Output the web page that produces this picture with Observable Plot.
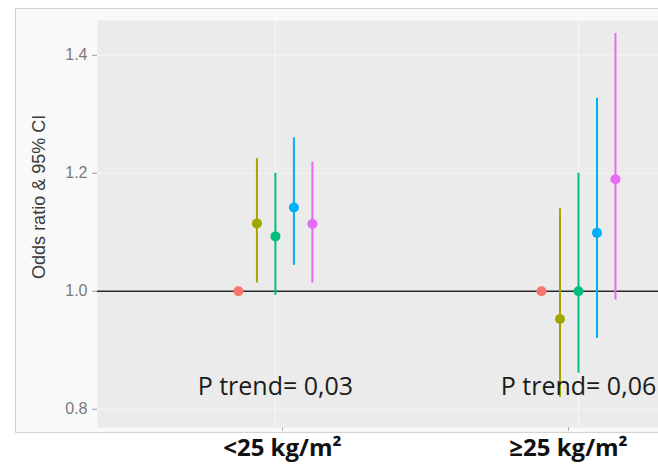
<!DOCTYPE html>
<html><head><meta charset="utf-8">
<script src="https://cdn.jsdelivr.net/npm/d3@7"></script>
<script src="https://cdn.jsdelivr.net/npm/@observablehq/plot@0.6"></script>
<style>
body{margin:0;background:#fff;}
#wrap{position:relative;width:658px;height:465px;overflow:hidden;}
#frame{position:absolute;left:15px;top:8px;width:700px;height:425px;border:1px solid #d4d4d4;background:#f9f9f9;box-sizing:border-box;}
#chart{position:absolute;left:0;top:0;}
</style></head><body>
<div id="wrap"><div id="frame"></div><div id="chart"></div></div>
<script>
// Categories (BMI groups) and series
const groups = ["<25 kg/m²", "≥25 kg/m²"];
const series = ["Cat 1", "Cat 2", "Cat 3", "Cat 4", "Cat 5"];
const colors = ["#F8766D", "#A3A500", "#00BF7D", "#00B0F6", "#E76BF3"];
// Odds ratios and 95% CI, <25 kg/m2
const orLow = [1.00, 1.115, 1.093, 1.142, 1.114];
const loLow = [1.00, 1.014, 0.993, 1.044, 1.014];
const hiLow = [1.00, 1.225, 1.200, 1.260, 1.219];
// Odds ratios and 95% CI, >=25 kg/m2
const orHigh = [1.00, 0.953, 1.000, 1.099, 1.190];
const loHigh = [1.00, 0.820, 0.861, 0.920, 0.985];
const hiHigh = [1.00, 1.140, 1.200, 1.327, 1.437];
const pTrend = ["P trend= 0,03", "P trend= 0,06"];
const yTicks = [0.8, 1.0, 1.2, 1.4];
const yTitle = "Odds ratio & 95% CI";

const data = [];
[[orLow, loLow, hiLow], [orHigh, loHigh, hiHigh]].forEach(([o, l, h], gi) => {
  series.forEach((s, si) => {
    data.push({group: gi, series: s, si, or: o[si], lo: l[si], hi: h[si], pos: gi + (si - 2) * 0.061});
  });
});
const ann = pTrend.map((t, gi) => ({group: gi, text: t}));

const xAxisStyle = {tickSize: 4, tickPadding: 7, stroke: "#b0b0b0", fill: "#111", fontSize: 24, fontWeight: "bold", fontFamily: "Open Sans", label: null};

const chart = Plot.plot({
  width: 658,
  height: 465,
  marginLeft: 97,
  marginRight: 0,
  marginTop: 20,
  marginBottom: 38,
  style: {background: "transparent", overflow: "visible"},
  x: {domain: [-0.587, 1.264], axis: null},
  y: {domain: [0.769, 1.459], axis: null},
  color: {domain: series, range: colors},
  marks: [
    Plot.frame({fill: "#ebebeb", stroke: null}),
    Plot.ruleY(yTicks.filter(v => v !== 1), {stroke: "white", strokeOpacity: 0.3, strokeWidth: 1.5}),
    Plot.ruleX([0, 1], {stroke: "white", strokeOpacity: 0.45, strokeWidth: 1.5}),
    Plot.ruleY([1], {stroke: "#2a2a2a", strokeWidth: 1.3}),
    Plot.ruleX(data.filter(d => d.hi !== d.lo), {x: "pos", y1: "lo", y2: "hi", stroke: "series", strokeWidth: 2}),
    Plot.dot(data, {x: "pos", y: "or", fill: "series", r: 5}),
    Plot.text(ann, {x: "group", y: () => 0.838, text: "text", fontSize: 25, fontFamily: "Open Sans", fill: "#1a1a1a"}),
    Plot.axisY({ticks: yTicks, tickFormat: d3.format(".1f"), tickSize: 5, tickPadding: 5, stroke: "#9a9a9a", fill: "#7a7a7a", fontSize: 16, fontFamily: "Liberation Sans", label: null}),
    Plot.axisX({...xAxisStyle, ticks: [0], tickFormat: i => groups[i], dx: 7}),
    Plot.axisX({...xAxisStyle, ticks: [1], tickFormat: i => groups[i], dx: -10}),
    Plot.text([yTitle], {frameAnchor: "left", y: () => 1.16, text: d => d, rotate: -90, dx: -58, textAnchor: "middle", fontSize: 18, fontFamily: "Liberation Sans", fill: "#3a3a3a"})
  ]
});
document.getElementById("chart").appendChild(chart);
</script>
</body></html>
